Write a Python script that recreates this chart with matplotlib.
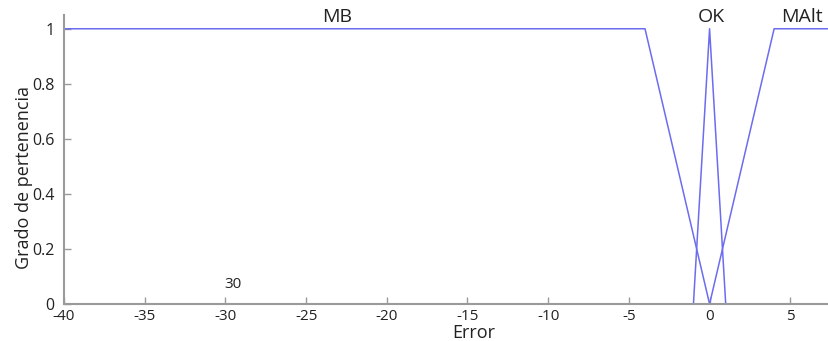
import matplotlib.pyplot as plt

plt.rcParams['font.family'] = ['Open Sans', 'DejaVu Sans']

# membership functions (Error -> grado de pertenencia)
mb_x = [-40, -4, 0]
mb_y = [1, 1, 0]
ok_x = [-1, 0, 1]
ok_y = [0, 1, 0]
malt_x = [0, 4, 7.5]
malt_y = [0, 1, 1]

labels = ["MB", "OK", "MAlt"]
label_x = [-23.1, 0.1, 5.75]

xticks = [-40, -35, -30, -25, -20, -15, -10, -5, 0, 5]
yticks = [0, 0.2, 0.4, 0.6, 0.8, 1]
ytick_labels = ["0", "0.2", "0.4", "0.6", "0.8", "1"]

color = "#6c6cf0"
gray = "#9a9a9a"
txt = "#222222"

fig = plt.figure(figsize=(8.29, 3.41), dpi=100)
ax = fig.add_axes([64 / 829, 37 / 341, 765 / 829, 289 / 341])

for xs, ys in [(mb_x, mb_y), (ok_x, ok_y), (malt_x, malt_y)]:
    ax.plot(xs, ys, color=color, lw=1.1)

for lab, lx in zip(labels, label_x):
    ax.text(lx, 1.01, lab, ha="center", va="bottom", fontsize=14, color=txt)

ax.text(-29.5, 0.045, "30", ha="center", va="bottom", fontsize=11, color=txt)

ax.set_xlim(-40, 7.4)
ax.set_ylim(0, 1.05)
ax.set_xticks(xticks)
ax.set_xticklabels([str(t) for t in xticks])
ax.set_yticks(yticks)
ax.set_yticklabels(ytick_labels)

for s in ["top", "right"]:
    ax.spines[s].set_visible(False)
for s in ["left", "bottom"]:
    ax.spines[s].set_color(gray)
    ax.spines[s].set_linewidth(1.5)

ax.tick_params(axis="both", direction="in", length=5, color=gray, width=1,
               labelsize=11.5, labelcolor=txt)
ax.tick_params(axis="x", pad=3.5, labelsize=11)
ax.tick_params(axis="y", pad=7)

ax.set_xlabel("Error", fontsize=13, color=txt)
ax.set_ylabel("Grado de pertenencia", fontsize=13, color=txt)
ax.xaxis.set_label_coords(0.535, -0.07)
ax.yaxis.set_label_coords(-0.041, 0.436)

fig.savefig("out.png", dpi=100)
